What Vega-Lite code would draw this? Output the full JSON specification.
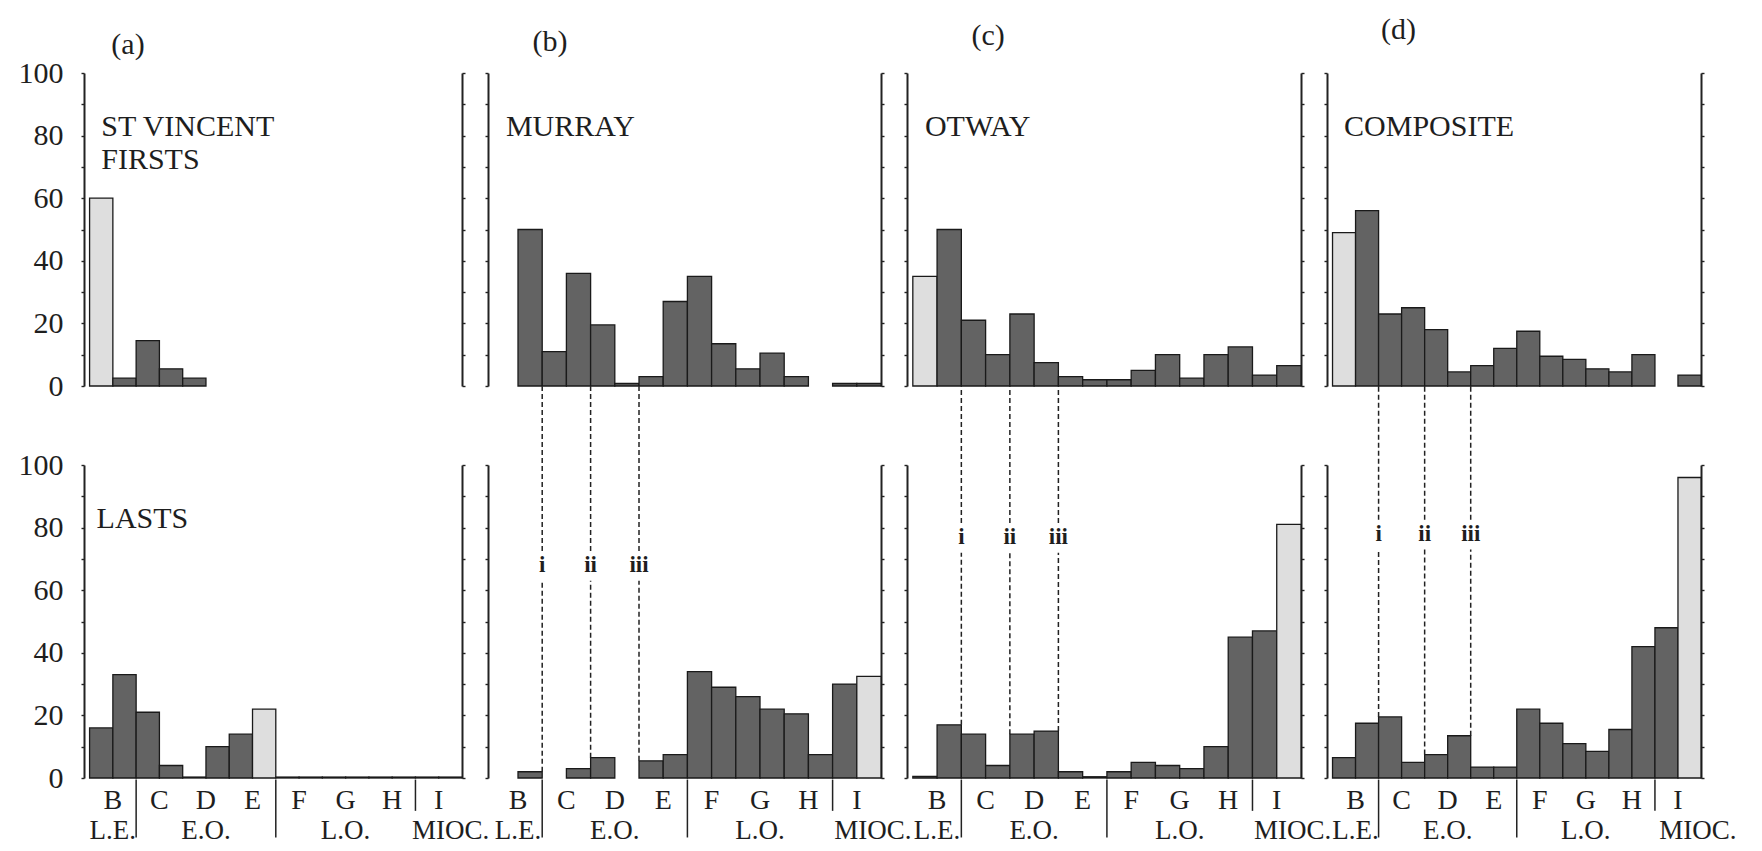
{
  "$schema": "https://vega.github.io/schema/vega-lite/v6.json",
  "background": "white",
  "padding": {"left": 18, "top": 14, "right": 5, "bottom": 5},
  "bounds": "flush",
  "columns": 4,
  "spacing": {"row": 79, "column": 26},
  "config": {
    "font": "Liberation Serif",
    "view": {"stroke": null},
    "text": {"font": "Liberation Serif", "color": "#1e1e1e"},
    "axis": {"grid": false, "domainColor": "#222", "domainWidth": 2, "tickColor": "#222", "tickWidth": 1.4, "tickSize": 3, "labelFont": "Liberation Serif", "labelFontSize": 30, "labelColor": "#1e1e1e", "labelPadding": 18}
  },
  "datasets": {
    "bars": [
      {"panel": "a", "row": "top", "slot": 1, "value": 60, "kind": "light"},
      {"panel": "a", "row": "top", "slot": 2, "value": 2.5, "kind": "dark"},
      {"panel": "a", "row": "top", "slot": 3, "value": 14.5, "kind": "dark"},
      {"panel": "a", "row": "top", "slot": 4, "value": 5.5, "kind": "dark"},
      {"panel": "a", "row": "top", "slot": 5, "value": 2.5, "kind": "dark"},
      {"panel": "a", "row": "bottom", "slot": 1, "value": 16, "kind": "dark"},
      {"panel": "a", "row": "bottom", "slot": 2, "value": 33, "kind": "dark"},
      {"panel": "a", "row": "bottom", "slot": 3, "value": 21, "kind": "dark"},
      {"panel": "a", "row": "bottom", "slot": 4, "value": 4, "kind": "dark"},
      {"panel": "a", "row": "bottom", "slot": 5, "value": 0.3, "kind": "dark"},
      {"panel": "a", "row": "bottom", "slot": 6, "value": 10, "kind": "dark"},
      {"panel": "a", "row": "bottom", "slot": 7, "value": 14, "kind": "dark"},
      {"panel": "a", "row": "bottom", "slot": 8, "value": 22, "kind": "light"},
      {"panel": "a", "row": "bottom", "slot": 9, "value": 0.3, "kind": "dark"},
      {"panel": "a", "row": "bottom", "slot": 10, "value": 0.3, "kind": "dark"},
      {"panel": "a", "row": "bottom", "slot": 11, "value": 0.3, "kind": "dark"},
      {"panel": "a", "row": "bottom", "slot": 12, "value": 0.3, "kind": "dark"},
      {"panel": "a", "row": "bottom", "slot": 13, "value": 0.3, "kind": "dark"},
      {"panel": "a", "row": "bottom", "slot": 14, "value": 0.3, "kind": "dark"},
      {"panel": "a", "row": "bottom", "slot": 15, "value": 0.3, "kind": "dark"},
      {"panel": "a", "row": "bottom", "slot": 16, "value": 0.3, "kind": "dark"},
      {"panel": "b", "row": "top", "slot": 2, "value": 50, "kind": "dark"},
      {"panel": "b", "row": "top", "slot": 3, "value": 11, "kind": "dark"},
      {"panel": "b", "row": "top", "slot": 4, "value": 36, "kind": "dark"},
      {"panel": "b", "row": "top", "slot": 5, "value": 19.5, "kind": "dark"},
      {"panel": "b", "row": "top", "slot": 6, "value": 0.8, "kind": "dark"},
      {"panel": "b", "row": "top", "slot": 7, "value": 3, "kind": "dark"},
      {"panel": "b", "row": "top", "slot": 8, "value": 27, "kind": "dark"},
      {"panel": "b", "row": "top", "slot": 9, "value": 35, "kind": "dark"},
      {"panel": "b", "row": "top", "slot": 10, "value": 13.5, "kind": "dark"},
      {"panel": "b", "row": "top", "slot": 11, "value": 5.5, "kind": "dark"},
      {"panel": "b", "row": "top", "slot": 12, "value": 10.5, "kind": "dark"},
      {"panel": "b", "row": "top", "slot": 13, "value": 3, "kind": "dark"},
      {"panel": "b", "row": "top", "slot": 15, "value": 0.8, "kind": "dark"},
      {"panel": "b", "row": "top", "slot": 16, "value": 0.8, "kind": "dark"},
      {"panel": "b", "row": "bottom", "slot": 2, "value": 2, "kind": "dark"},
      {"panel": "b", "row": "bottom", "slot": 4, "value": 3, "kind": "dark"},
      {"panel": "b", "row": "bottom", "slot": 5, "value": 6.5, "kind": "dark"},
      {"panel": "b", "row": "bottom", "slot": 7, "value": 5.5, "kind": "dark"},
      {"panel": "b", "row": "bottom", "slot": 8, "value": 7.5, "kind": "dark"},
      {"panel": "b", "row": "bottom", "slot": 9, "value": 34, "kind": "dark"},
      {"panel": "b", "row": "bottom", "slot": 10, "value": 29, "kind": "dark"},
      {"panel": "b", "row": "bottom", "slot": 11, "value": 26, "kind": "dark"},
      {"panel": "b", "row": "bottom", "slot": 12, "value": 22, "kind": "dark"},
      {"panel": "b", "row": "bottom", "slot": 13, "value": 20.5, "kind": "dark"},
      {"panel": "b", "row": "bottom", "slot": 14, "value": 7.5, "kind": "dark"},
      {"panel": "b", "row": "bottom", "slot": 15, "value": 30, "kind": "dark"},
      {"panel": "b", "row": "bottom", "slot": 16, "value": 32.5, "kind": "light"},
      {"panel": "c", "row": "top", "slot": 1, "value": 35, "kind": "light"},
      {"panel": "c", "row": "top", "slot": 2, "value": 50, "kind": "dark"},
      {"panel": "c", "row": "top", "slot": 3, "value": 21, "kind": "dark"},
      {"panel": "c", "row": "top", "slot": 4, "value": 10, "kind": "dark"},
      {"panel": "c", "row": "top", "slot": 5, "value": 23, "kind": "dark"},
      {"panel": "c", "row": "top", "slot": 6, "value": 7.5, "kind": "dark"},
      {"panel": "c", "row": "top", "slot": 7, "value": 3, "kind": "dark"},
      {"panel": "c", "row": "top", "slot": 8, "value": 2, "kind": "dark"},
      {"panel": "c", "row": "top", "slot": 9, "value": 2, "kind": "dark"},
      {"panel": "c", "row": "top", "slot": 10, "value": 5, "kind": "dark"},
      {"panel": "c", "row": "top", "slot": 11, "value": 10, "kind": "dark"},
      {"panel": "c", "row": "top", "slot": 12, "value": 2.5, "kind": "dark"},
      {"panel": "c", "row": "top", "slot": 13, "value": 10, "kind": "dark"},
      {"panel": "c", "row": "top", "slot": 14, "value": 12.5, "kind": "dark"},
      {"panel": "c", "row": "top", "slot": 15, "value": 3.5, "kind": "dark"},
      {"panel": "c", "row": "top", "slot": 16, "value": 6.5, "kind": "dark"},
      {"panel": "c", "row": "bottom", "slot": 1, "value": 0.5, "kind": "dark"},
      {"panel": "c", "row": "bottom", "slot": 2, "value": 17, "kind": "dark"},
      {"panel": "c", "row": "bottom", "slot": 3, "value": 14, "kind": "dark"},
      {"panel": "c", "row": "bottom", "slot": 4, "value": 4, "kind": "dark"},
      {"panel": "c", "row": "bottom", "slot": 5, "value": 14, "kind": "dark"},
      {"panel": "c", "row": "bottom", "slot": 6, "value": 15, "kind": "dark"},
      {"panel": "c", "row": "bottom", "slot": 7, "value": 2, "kind": "dark"},
      {"panel": "c", "row": "bottom", "slot": 8, "value": 0.4, "kind": "dark"},
      {"panel": "c", "row": "bottom", "slot": 9, "value": 2, "kind": "dark"},
      {"panel": "c", "row": "bottom", "slot": 10, "value": 5, "kind": "dark"},
      {"panel": "c", "row": "bottom", "slot": 11, "value": 4, "kind": "dark"},
      {"panel": "c", "row": "bottom", "slot": 12, "value": 3, "kind": "dark"},
      {"panel": "c", "row": "bottom", "slot": 13, "value": 10, "kind": "dark"},
      {"panel": "c", "row": "bottom", "slot": 14, "value": 45, "kind": "dark"},
      {"panel": "c", "row": "bottom", "slot": 15, "value": 47, "kind": "dark"},
      {"panel": "c", "row": "bottom", "slot": 16, "value": 81, "kind": "light"},
      {"panel": "d", "row": "top", "slot": 1, "value": 49, "kind": "light"},
      {"panel": "d", "row": "top", "slot": 2, "value": 56, "kind": "dark"},
      {"panel": "d", "row": "top", "slot": 3, "value": 23, "kind": "dark"},
      {"panel": "d", "row": "top", "slot": 4, "value": 25, "kind": "dark"},
      {"panel": "d", "row": "top", "slot": 5, "value": 18, "kind": "dark"},
      {"panel": "d", "row": "top", "slot": 6, "value": 4.5, "kind": "dark"},
      {"panel": "d", "row": "top", "slot": 7, "value": 6.5, "kind": "dark"},
      {"panel": "d", "row": "top", "slot": 8, "value": 12, "kind": "dark"},
      {"panel": "d", "row": "top", "slot": 9, "value": 17.5, "kind": "dark"},
      {"panel": "d", "row": "top", "slot": 10, "value": 9.5, "kind": "dark"},
      {"panel": "d", "row": "top", "slot": 11, "value": 8.5, "kind": "dark"},
      {"panel": "d", "row": "top", "slot": 12, "value": 5.5, "kind": "dark"},
      {"panel": "d", "row": "top", "slot": 13, "value": 4.5, "kind": "dark"},
      {"panel": "d", "row": "top", "slot": 14, "value": 10, "kind": "dark"},
      {"panel": "d", "row": "top", "slot": 16, "value": 3.5, "kind": "dark"},
      {"panel": "d", "row": "bottom", "slot": 1, "value": 6.5, "kind": "dark"},
      {"panel": "d", "row": "bottom", "slot": 2, "value": 17.5, "kind": "dark"},
      {"panel": "d", "row": "bottom", "slot": 3, "value": 19.5, "kind": "dark"},
      {"panel": "d", "row": "bottom", "slot": 4, "value": 5, "kind": "dark"},
      {"panel": "d", "row": "bottom", "slot": 5, "value": 7.5, "kind": "dark"},
      {"panel": "d", "row": "bottom", "slot": 6, "value": 13.5, "kind": "dark"},
      {"panel": "d", "row": "bottom", "slot": 7, "value": 3.5, "kind": "dark"},
      {"panel": "d", "row": "bottom", "slot": 8, "value": 3.5, "kind": "dark"},
      {"panel": "d", "row": "bottom", "slot": 9, "value": 22, "kind": "dark"},
      {"panel": "d", "row": "bottom", "slot": 10, "value": 17.5, "kind": "dark"},
      {"panel": "d", "row": "bottom", "slot": 11, "value": 11, "kind": "dark"},
      {"panel": "d", "row": "bottom", "slot": 12, "value": 8.5, "kind": "dark"},
      {"panel": "d", "row": "bottom", "slot": 13, "value": 15.5, "kind": "dark"},
      {"panel": "d", "row": "bottom", "slot": 14, "value": 42, "kind": "dark"},
      {"panel": "d", "row": "bottom", "slot": 15, "value": 48, "kind": "dark"},
      {"panel": "d", "row": "bottom", "slot": 16, "value": 96, "kind": "light"}
    ],
    "markers": [
      {"panel": "b", "label": "i", "slot": 2, "top": 2},
      {"panel": "b", "label": "ii", "slot": 4, "top": 6.5},
      {"panel": "b", "label": "iii", "slot": 6, "top": 5.5},
      {"panel": "c", "label": "i", "slot": 2, "top": 17},
      {"panel": "c", "label": "ii", "slot": 4, "top": 14},
      {"panel": "c", "label": "iii", "slot": 6, "top": 15},
      {"panel": "d", "label": "i", "slot": 2, "top": 19.5},
      {"panel": "d", "label": "ii", "slot": 4, "top": 7.5},
      {"panel": "d", "label": "iii", "slot": 6, "top": 13.5}
    ],
    "titles": [
      {"panel": "a", "row": "top", "text": "ST VINCENT\nFIRSTS"},
      {"panel": "a", "row": "bottom", "text": "LASTS"},
      {"panel": "b", "row": "top", "text": "MURRAY"},
      {"panel": "c", "row": "top", "text": "OTWAY"},
      {"panel": "d", "row": "top", "text": "COMPOSITE"}
    ],
    "letters": [
      {"panel": "a", "text": "(a)"},
      {"panel": "b", "text": "(b)"},
      {"panel": "c", "text": "(c)"},
      {"panel": "d", "text": "(d)"}
    ],
    "xletters": [
      {"label": "B", "slot": 1}, {"label": "C", "slot": 3}, {"label": "D", "slot": 5}, {"label": "E", "slot": 7},
      {"label": "F", "slot": 9}, {"label": "G", "slot": 11}, {"label": "H", "slot": 13}, {"label": "I", "slot": 15}
    ],
    "xgroups": [
      {"label": "L.E.", "slot": 1}, {"label": "E.O.", "slot": 5}, {"label": "L.O.", "slot": 11}, {"label": "MIOC.", "slot": 15}
    ],
    "xdividers": [
      {"slot": 2, "kind": "long"}, {"slot": 8, "kind": "long"}, {"slot": 14, "kind": "short"}
    ]
  },
  "concat": [
    {
      "width": 378, "height": 313,
      "layer": [
        {"data": {"name": "bars"}, "transform": [{"filter": "datum.panel === 'a' && datum.row === 'top'"}],
         "mark": {"type": "bar", "stroke": "#1a1a1a", "strokeWidth": 1.3},
         "encoding": {
           "x": {"field": "slot", "type": "ordinal", "scale": {"type": "band", "domain": [1,2,3,4,5,6,7,8,9,10,11,12,13,14,15,16], "paddingInner": 0, "paddingOuter": 0.12, "align": 1}, "axis": null},
           "y": {"field": "value", "type": "quantitative", "scale": {"domain": [0, 100], "nice": false}, "axis": {"orient": "left", "values": [0,10,20,30,40,50,60,70,80,90,100], "labelExpr": "datum.value % 20 === 0 ? datum.label : ''", "title": null}},
           "fill": {"field": "kind", "type": "nominal", "scale": {"domain": ["dark", "light"], "range": ["#636363", "#dedede"]}, "legend": null}}},
        {"data": {"name": "bars"}, "transform": [{"filter": "datum.panel === 'a' && datum.row === 'top'"}],
         "mark": {"type": "tick", "opacity": 0},
         "encoding": {"y": {"field": "value", "type": "quantitative", "axis": {"orient": "right", "values": [0,10,20,30,40,50,60,70,80,90,100], "labels": false, "title": null}}}},
        {"data": {"name": "titles"}, "transform": [{"filter": "datum.panel === 'a' && datum.row === 'top'"}],
         "mark": {"type": "text", "align": "left", "baseline": "alphabetic", "fontSize": 30, "lineBreak": "\n", "lineHeight": 33},
         "encoding": {"x": {"datum": 1, "type": "ordinal", "bandPosition": 0.5, "axis": null}, "y": {"datum": 80, "type": "quantitative", "axis": null}, "text": {"field": "text"}}},
        {"data": {"name": "letters"}, "transform": [{"filter": "datum.panel === 'a'"}],
         "mark": {"type": "text", "align": "center", "baseline": "alphabetic", "fontSize": 30},
         "encoding": {"x": {"datum": 2, "type": "ordinal", "bandPosition": 0.65, "axis": null}, "y": {"datum": 106, "type": "quantitative", "axis": null}, "text": {"field": "text"}}}
      ],
      "resolve": {"axis": {"y": "independent"}}
    },
    {
      "width": 393, "height": 313,
      "layer": [
        {"data": {"name": "bars"}, "transform": [{"filter": "datum.panel === 'b' && datum.row === 'top'"}],
         "mark": {"type": "bar", "stroke": "#1a1a1a", "strokeWidth": 1.3},
         "encoding": {
           "x": {"field": "slot", "type": "ordinal", "scale": {"type": "band", "domain": [1,2,3,4,5,6,7,8,9,10,11,12,13,14,15,16], "paddingInner": 0, "paddingOuter": 0.12, "align": 1}, "axis": null},
           "y": {"field": "value", "type": "quantitative", "scale": {"domain": [0, 100], "nice": false}, "axis": {"orient": "left", "values": [0,10,20,30,40,50,60,70,80,90,100], "labels": false, "title": null}},
           "fill": {"field": "kind", "type": "nominal", "scale": {"domain": ["dark", "light"], "range": ["#636363", "#dedede"]}, "legend": null}}},
        {"data": {"name": "bars"}, "transform": [{"filter": "datum.panel === 'b' && datum.row === 'top'"}],
         "mark": {"type": "tick", "opacity": 0},
         "encoding": {"y": {"field": "value", "type": "quantitative", "axis": {"orient": "right", "values": [0,10,20,30,40,50,60,70,80,90,100], "labels": false, "title": null}}}},
        {"data": {"name": "titles"}, "transform": [{"filter": "datum.panel === 'b' && datum.row === 'top'"}],
         "mark": {"type": "text", "align": "left", "baseline": "alphabetic", "fontSize": 30, "lineBreak": "\n", "lineHeight": 33},
         "encoding": {"x": {"datum": 1, "type": "ordinal", "bandPosition": 0.5, "axis": null}, "y": {"datum": 80, "type": "quantitative", "axis": null}, "text": {"field": "text"}}},
        {"data": {"name": "letters"}, "transform": [{"filter": "datum.panel === 'b'"}],
         "mark": {"type": "text", "align": "center", "baseline": "alphabetic", "fontSize": 30},
         "encoding": {"x": {"datum": 3, "type": "ordinal", "bandPosition": 0.32, "axis": null}, "y": {"datum": 107, "type": "quantitative", "axis": null}, "text": {"field": "text"}}}
      ],
      "resolve": {"axis": {"y": "independent"}}
    },
    {
      "width": 394, "height": 313,
      "layer": [
        {"data": {"name": "bars"}, "transform": [{"filter": "datum.panel === 'c' && datum.row === 'top'"}],
         "mark": {"type": "bar", "stroke": "#1a1a1a", "strokeWidth": 1.3},
         "encoding": {
           "x": {"field": "slot", "type": "ordinal", "scale": {"type": "band", "domain": [1,2,3,4,5,6,7,8,9,10,11,12,13,14,15,16], "paddingInner": 0, "paddingOuter": 0.12, "align": 1}, "axis": null},
           "y": {"field": "value", "type": "quantitative", "scale": {"domain": [0, 100], "nice": false}, "axis": {"orient": "left", "values": [0,10,20,30,40,50,60,70,80,90,100], "labels": false, "title": null}},
           "fill": {"field": "kind", "type": "nominal", "scale": {"domain": ["dark", "light"], "range": ["#636363", "#dedede"]}, "legend": null}}},
        {"data": {"name": "bars"}, "transform": [{"filter": "datum.panel === 'c' && datum.row === 'top'"}],
         "mark": {"type": "tick", "opacity": 0},
         "encoding": {"y": {"field": "value", "type": "quantitative", "axis": {"orient": "right", "values": [0,10,20,30,40,50,60,70,80,90,100], "labels": false, "title": null}}}},
        {"data": {"name": "titles"}, "transform": [{"filter": "datum.panel === 'c' && datum.row === 'top'"}],
         "mark": {"type": "text", "align": "left", "baseline": "alphabetic", "fontSize": 30, "lineBreak": "\n", "lineHeight": 33},
         "encoding": {"x": {"datum": 1, "type": "ordinal", "bandPosition": 0.5, "axis": null}, "y": {"datum": 80, "type": "quantitative", "axis": null}, "text": {"field": "text"}}},
        {"data": {"name": "letters"}, "transform": [{"filter": "datum.panel === 'c'"}],
         "mark": {"type": "text", "align": "center", "baseline": "alphabetic", "fontSize": 30},
         "encoding": {"x": {"datum": 4, "type": "ordinal", "bandPosition": 0.1, "axis": null}, "y": {"datum": 109, "type": "quantitative", "axis": null}, "text": {"field": "text"}}}
      ],
      "resolve": {"axis": {"y": "independent"}}
    },
    {
      "width": 374, "height": 313,
      "layer": [
        {"data": {"name": "bars"}, "transform": [{"filter": "datum.panel === 'd' && datum.row === 'top'"}],
         "mark": {"type": "bar", "stroke": "#1a1a1a", "strokeWidth": 1.3},
         "encoding": {
           "x": {"field": "slot", "type": "ordinal", "scale": {"type": "band", "domain": [1,2,3,4,5,6,7,8,9,10,11,12,13,14,15,16], "paddingInner": 0, "paddingOuter": 0.12, "align": 1}, "axis": null},
           "y": {"field": "value", "type": "quantitative", "scale": {"domain": [0, 100], "nice": false}, "axis": {"orient": "left", "values": [0,10,20,30,40,50,60,70,80,90,100], "labels": false, "title": null}},
           "fill": {"field": "kind", "type": "nominal", "scale": {"domain": ["dark", "light"], "range": ["#636363", "#dedede"]}, "legend": null}}},
        {"data": {"name": "bars"}, "transform": [{"filter": "datum.panel === 'd' && datum.row === 'top'"}],
         "mark": {"type": "tick", "opacity": 0},
         "encoding": {"y": {"field": "value", "type": "quantitative", "axis": {"orient": "right", "values": [0,10,20,30,40,50,60,70,80,90,100], "labels": false, "title": null}}}},
        {"data": {"name": "titles"}, "transform": [{"filter": "datum.panel === 'd' && datum.row === 'top'"}],
         "mark": {"type": "text", "align": "left", "baseline": "alphabetic", "fontSize": 30, "lineBreak": "\n", "lineHeight": 33},
         "encoding": {"x": {"datum": 1, "type": "ordinal", "bandPosition": 0.5, "axis": null}, "y": {"datum": 80, "type": "quantitative", "axis": null}, "text": {"field": "text"}}},
        {"data": {"name": "letters"}, "transform": [{"filter": "datum.panel === 'd'"}],
         "mark": {"type": "text", "align": "center", "baseline": "alphabetic", "fontSize": 30},
         "encoding": {"x": {"datum": 3, "type": "ordinal", "bandPosition": 0.86, "axis": null}, "y": {"datum": 111, "type": "quantitative", "axis": null}, "text": {"field": "text"}}}
      ],
      "resolve": {"axis": {"y": "independent"}}
    },
    {
      "width": 378, "height": 313,
      "layer": [
        {"data": {"name": "bars"}, "transform": [{"filter": "datum.panel === 'a' && datum.row === 'bottom'"}],
         "mark": {"type": "bar", "stroke": "#1a1a1a", "strokeWidth": 1.3},
         "encoding": {
           "x": {"field": "slot", "type": "ordinal", "scale": {"type": "band", "domain": [1,2,3,4,5,6,7,8,9,10,11,12,13,14,15,16], "paddingInner": 0, "paddingOuter": 0.12, "align": 1}, "axis": null},
           "y": {"field": "value", "type": "quantitative", "scale": {"domain": [0, 100], "nice": false}, "axis": {"orient": "left", "values": [0,10,20,30,40,50,60,70,80,90,100], "labelExpr": "datum.value % 20 === 0 ? datum.label : ''", "title": null}},
           "fill": {"field": "kind", "type": "nominal", "scale": {"domain": ["dark", "light"], "range": ["#636363", "#dedede"]}, "legend": null}}},
        {"data": {"name": "bars"}, "transform": [{"filter": "datum.panel === 'a' && datum.row === 'bottom'"}],
         "mark": {"type": "tick", "opacity": 0},
         "encoding": {"y": {"field": "value", "type": "quantitative", "axis": {"orient": "right", "values": [0,10,20,30,40,50,60,70,80,90,100], "labels": false, "title": null}}}},
        {"data": {"name": "titles"}, "transform": [{"filter": "datum.panel === 'a' && datum.row === 'bottom'"}],
         "mark": {"type": "text", "align": "left", "baseline": "alphabetic", "fontSize": 30},
         "encoding": {"x": {"datum": 1, "type": "ordinal", "bandPosition": 0.3, "axis": null}, "y": {"datum": 80, "type": "quantitative", "axis": null}, "text": {"field": "text"}}},
        {"data": {"name": "xletters"},
         "mark": {"type": "text", "align": "center", "baseline": "middle", "fontSize": 28},
         "encoding": {"x": {"field": "slot", "type": "ordinal", "bandPosition": 1, "axis": null}, "y": {"datum": -7.5, "type": "quantitative", "axis": null}, "text": {"field": "label"}}},
        {"data": {"name": "xgroups"}, "transform": [{"filter": "datum.label !== 'MIOC.'"}],
         "mark": {"type": "text", "align": "center", "baseline": "middle", "fontSize": 27},
         "encoding": {"x": {"field": "slot", "type": "ordinal", "bandPosition": 1, "axis": null}, "y": {"datum": -17, "type": "quantitative", "axis": null}, "text": {"field": "label"}}},
        {"data": {"name": "xgroups"}, "transform": [{"filter": "datum.label === 'MIOC.'"}],
         "mark": {"type": "text", "align": "center", "baseline": "middle", "fontSize": 27, "dx": 12},
         "encoding": {"x": {"field": "slot", "type": "ordinal", "bandPosition": 1, "axis": null}, "y": {"datum": -17, "type": "quantitative", "axis": null}, "text": {"field": "label"}}},
        {"data": {"name": "xdividers"}, "transform": [{"filter": "datum.kind === 'long'"}],
         "mark": {"type": "rule", "strokeWidth": 1.5, "color": "#222"},
         "encoding": {"x": {"field": "slot", "type": "ordinal", "bandPosition": 1, "axis": null}, "y": {"datum": -0.5, "type": "quantitative", "axis": null}, "y2": {"datum": -19}}},
        {"data": {"name": "xdividers"}, "transform": [{"filter": "datum.kind === 'short'"}],
         "mark": {"type": "rule", "strokeWidth": 1.5, "color": "#222"},
         "encoding": {"x": {"field": "slot", "type": "ordinal", "bandPosition": 1, "axis": null}, "y": {"datum": -0.5, "type": "quantitative", "axis": null}, "y2": {"datum": -10.5}}}
      ],
      "resolve": {"axis": {"y": "independent"}}
    },
    {
      "width": 393, "height": 313,
      "layer": [
        {"data": {"name": "bars"}, "transform": [{"filter": "datum.panel === 'b' && datum.row === 'bottom'"}],
         "mark": {"type": "bar", "stroke": "#1a1a1a", "strokeWidth": 1.3},
         "encoding": {
           "x": {"field": "slot", "type": "ordinal", "scale": {"type": "band", "domain": [1,2,3,4,5,6,7,8,9,10,11,12,13,14,15,16], "paddingInner": 0, "paddingOuter": 0.12, "align": 1}, "axis": null},
           "y": {"field": "value", "type": "quantitative", "scale": {"domain": [0, 100], "nice": false}, "axis": {"orient": "left", "values": [0,10,20,30,40,50,60,70,80,90,100], "labels": false, "title": null}},
           "fill": {"field": "kind", "type": "nominal", "scale": {"domain": ["dark", "light"], "range": ["#636363", "#dedede"]}, "legend": null}}},
        {"data": {"name": "bars"}, "transform": [{"filter": "datum.panel === 'b' && datum.row === 'bottom'"}],
         "mark": {"type": "tick", "opacity": 0},
         "encoding": {"y": {"field": "value", "type": "quantitative", "axis": {"orient": "right", "values": [0,10,20,30,40,50,60,70,80,90,100], "labels": false, "title": null}}}},
        {"data": {"name": "xletters"},
         "mark": {"type": "text", "align": "center", "baseline": "middle", "fontSize": 28},
         "encoding": {"x": {"field": "slot", "type": "ordinal", "bandPosition": 1, "axis": null}, "y": {"datum": -7.5, "type": "quantitative", "axis": null}, "text": {"field": "label"}}},
        {"data": {"name": "xgroups"}, "transform": [{"filter": "datum.label !== 'MIOC.'"}],
         "mark": {"type": "text", "align": "center", "baseline": "middle", "fontSize": 27},
         "encoding": {"x": {"field": "slot", "type": "ordinal", "bandPosition": 1, "axis": null}, "y": {"datum": -17, "type": "quantitative", "axis": null}, "text": {"field": "label"}}},
        {"data": {"name": "xgroups"}, "transform": [{"filter": "datum.label === 'MIOC.'"}],
         "mark": {"type": "text", "align": "center", "baseline": "middle", "fontSize": 27, "dx": 16},
         "encoding": {"x": {"field": "slot", "type": "ordinal", "bandPosition": 1, "axis": null}, "y": {"datum": -17, "type": "quantitative", "axis": null}, "text": {"field": "label"}}},
        {"data": {"name": "xdividers"}, "transform": [{"filter": "datum.kind === 'long'"}],
         "mark": {"type": "rule", "strokeWidth": 1.5, "color": "#222"},
         "encoding": {"x": {"field": "slot", "type": "ordinal", "bandPosition": 1, "axis": null}, "y": {"datum": -0.5, "type": "quantitative", "axis": null}, "y2": {"datum": -19}}},
        {"data": {"name": "xdividers"}, "transform": [{"filter": "datum.kind === 'short'"}],
         "mark": {"type": "rule", "strokeWidth": 1.5, "color": "#222"},
         "encoding": {"x": {"field": "slot", "type": "ordinal", "bandPosition": 1, "axis": null}, "y": {"datum": -0.5, "type": "quantitative", "axis": null}, "y2": {"datum": -10.5}}},
        {"data": {"name": "markers"}, "transform": [{"filter": "datum.panel === 'b'"}],
         "mark": {"type": "rule", "strokeDash": [5, 3], "strokeWidth": 1.5, "color": "#222"},
         "encoding": {"x": {"field": "slot", "type": "ordinal", "bandPosition": 1, "axis": null}, "y": {"field": "top", "type": "quantitative", "axis": null}, "y2": {"datum": 63}}},
        {"data": {"name": "markers"}, "transform": [{"filter": "datum.panel === 'b'"}],
         "mark": {"type": "rule", "strokeDash": [5, 3], "strokeWidth": 1.5, "color": "#222"},
         "encoding": {"x": {"field": "slot", "type": "ordinal", "bandPosition": 1, "axis": null}, "y": {"datum": 72.5, "type": "quantitative", "axis": null}, "y2": {"datum": 125}}},
        {"data": {"name": "markers"}, "transform": [{"filter": "datum.panel === 'b'"}],
         "mark": {"type": "text", "align": "center", "baseline": "middle", "fontSize": 23, "fontWeight": "bold"},
         "encoding": {"x": {"field": "slot", "type": "ordinal", "bandPosition": 1, "axis": null}, "y": {"datum": 68, "type": "quantitative", "axis": null}, "text": {"field": "label"}}}
      ],
      "resolve": {"axis": {"y": "independent"}}
    },
    {
      "width": 394, "height": 313,
      "layer": [
        {"data": {"name": "bars"}, "transform": [{"filter": "datum.panel === 'c' && datum.row === 'bottom'"}],
         "mark": {"type": "bar", "stroke": "#1a1a1a", "strokeWidth": 1.3},
         "encoding": {
           "x": {"field": "slot", "type": "ordinal", "scale": {"type": "band", "domain": [1,2,3,4,5,6,7,8,9,10,11,12,13,14,15,16], "paddingInner": 0, "paddingOuter": 0.12, "align": 1}, "axis": null},
           "y": {"field": "value", "type": "quantitative", "scale": {"domain": [0, 100], "nice": false}, "axis": {"orient": "left", "values": [0,10,20,30,40,50,60,70,80,90,100], "labels": false, "title": null}},
           "fill": {"field": "kind", "type": "nominal", "scale": {"domain": ["dark", "light"], "range": ["#636363", "#dedede"]}, "legend": null}}},
        {"data": {"name": "bars"}, "transform": [{"filter": "datum.panel === 'c' && datum.row === 'bottom'"}],
         "mark": {"type": "tick", "opacity": 0},
         "encoding": {"y": {"field": "value", "type": "quantitative", "axis": {"orient": "right", "values": [0,10,20,30,40,50,60,70,80,90,100], "labels": false, "title": null}}}},
        {"data": {"name": "xletters"},
         "mark": {"type": "text", "align": "center", "baseline": "middle", "fontSize": 28},
         "encoding": {"x": {"field": "slot", "type": "ordinal", "bandPosition": 1, "axis": null}, "y": {"datum": -7.5, "type": "quantitative", "axis": null}, "text": {"field": "label"}}},
        {"data": {"name": "xgroups"}, "transform": [{"filter": "datum.label !== 'MIOC.'"}],
         "mark": {"type": "text", "align": "center", "baseline": "middle", "fontSize": 27},
         "encoding": {"x": {"field": "slot", "type": "ordinal", "bandPosition": 1, "axis": null}, "y": {"datum": -17, "type": "quantitative", "axis": null}, "text": {"field": "label"}}},
        {"data": {"name": "xgroups"}, "transform": [{"filter": "datum.label === 'MIOC.'"}],
         "mark": {"type": "text", "align": "center", "baseline": "middle", "fontSize": 27, "dx": 16},
         "encoding": {"x": {"field": "slot", "type": "ordinal", "bandPosition": 1, "axis": null}, "y": {"datum": -17, "type": "quantitative", "axis": null}, "text": {"field": "label"}}},
        {"data": {"name": "xdividers"}, "transform": [{"filter": "datum.kind === 'long'"}],
         "mark": {"type": "rule", "strokeWidth": 1.5, "color": "#222"},
         "encoding": {"x": {"field": "slot", "type": "ordinal", "bandPosition": 1, "axis": null}, "y": {"datum": -0.5, "type": "quantitative", "axis": null}, "y2": {"datum": -19}}},
        {"data": {"name": "xdividers"}, "transform": [{"filter": "datum.kind === 'short'"}],
         "mark": {"type": "rule", "strokeWidth": 1.5, "color": "#222"},
         "encoding": {"x": {"field": "slot", "type": "ordinal", "bandPosition": 1, "axis": null}, "y": {"datum": -0.5, "type": "quantitative", "axis": null}, "y2": {"datum": -10.5}}},
        {"data": {"name": "markers"}, "transform": [{"filter": "datum.panel === 'c'"}],
         "mark": {"type": "rule", "strokeDash": [5, 3], "strokeWidth": 1.5, "color": "#222"},
         "encoding": {"x": {"field": "slot", "type": "ordinal", "bandPosition": 1, "axis": null}, "y": {"field": "top", "type": "quantitative", "axis": null}, "y2": {"datum": 72}}},
        {"data": {"name": "markers"}, "transform": [{"filter": "datum.panel === 'c'"}],
         "mark": {"type": "rule", "strokeDash": [5, 3], "strokeWidth": 1.5, "color": "#222"},
         "encoding": {"x": {"field": "slot", "type": "ordinal", "bandPosition": 1, "axis": null}, "y": {"datum": 81.5, "type": "quantitative", "axis": null}, "y2": {"datum": 125}}},
        {"data": {"name": "markers"}, "transform": [{"filter": "datum.panel === 'c'"}],
         "mark": {"type": "text", "align": "center", "baseline": "middle", "fontSize": 23, "fontWeight": "bold"},
         "encoding": {"x": {"field": "slot", "type": "ordinal", "bandPosition": 1, "axis": null}, "y": {"datum": 77, "type": "quantitative", "axis": null}, "text": {"field": "label"}}}
      ],
      "resolve": {"axis": {"y": "independent"}}
    },
    {
      "width": 374, "height": 313,
      "layer": [
        {"data": {"name": "bars"}, "transform": [{"filter": "datum.panel === 'd' && datum.row === 'bottom'"}],
         "mark": {"type": "bar", "stroke": "#1a1a1a", "strokeWidth": 1.3},
         "encoding": {
           "x": {"field": "slot", "type": "ordinal", "scale": {"type": "band", "domain": [1,2,3,4,5,6,7,8,9,10,11,12,13,14,15,16], "paddingInner": 0, "paddingOuter": 0.12, "align": 1}, "axis": null},
           "y": {"field": "value", "type": "quantitative", "scale": {"domain": [0, 100], "nice": false}, "axis": {"orient": "left", "values": [0,10,20,30,40,50,60,70,80,90,100], "labels": false, "title": null}},
           "fill": {"field": "kind", "type": "nominal", "scale": {"domain": ["dark", "light"], "range": ["#636363", "#dedede"]}, "legend": null}}},
        {"data": {"name": "bars"}, "transform": [{"filter": "datum.panel === 'd' && datum.row === 'bottom'"}],
         "mark": {"type": "tick", "opacity": 0},
         "encoding": {"y": {"field": "value", "type": "quantitative", "axis": {"orient": "right", "values": [0,10,20,30,40,50,60,70,80,90,100], "labels": false, "title": null}}}},
        {"data": {"name": "xletters"},
         "mark": {"type": "text", "align": "center", "baseline": "middle", "fontSize": 28},
         "encoding": {"x": {"field": "slot", "type": "ordinal", "bandPosition": 1, "axis": null}, "y": {"datum": -7.5, "type": "quantitative", "axis": null}, "text": {"field": "label"}}},
        {"data": {"name": "xgroups"}, "transform": [{"filter": "datum.label !== 'MIOC.'"}],
         "mark": {"type": "text", "align": "center", "baseline": "middle", "fontSize": 27},
         "encoding": {"x": {"field": "slot", "type": "ordinal", "bandPosition": 1, "axis": null}, "y": {"datum": -17, "type": "quantitative", "axis": null}, "text": {"field": "label"}}},
        {"data": {"name": "xgroups"}, "transform": [{"filter": "datum.label === 'MIOC.'"}],
         "mark": {"type": "text", "align": "center", "baseline": "middle", "fontSize": 27, "dx": 20},
         "encoding": {"x": {"field": "slot", "type": "ordinal", "bandPosition": 1, "axis": null}, "y": {"datum": -17, "type": "quantitative", "axis": null}, "text": {"field": "label"}}},
        {"data": {"name": "xdividers"}, "transform": [{"filter": "datum.kind === 'long'"}],
         "mark": {"type": "rule", "strokeWidth": 1.5, "color": "#222"},
         "encoding": {"x": {"field": "slot", "type": "ordinal", "bandPosition": 1, "axis": null}, "y": {"datum": -0.5, "type": "quantitative", "axis": null}, "y2": {"datum": -19}}},
        {"data": {"name": "xdividers"}, "transform": [{"filter": "datum.kind === 'short'"}],
         "mark": {"type": "rule", "strokeWidth": 1.5, "color": "#222"},
         "encoding": {"x": {"field": "slot", "type": "ordinal", "bandPosition": 1, "axis": null}, "y": {"datum": -0.5, "type": "quantitative", "axis": null}, "y2": {"datum": -10.5}}},
        {"data": {"name": "markers"}, "transform": [{"filter": "datum.panel === 'd'"}],
         "mark": {"type": "rule", "strokeDash": [5, 3], "strokeWidth": 1.5, "color": "#222"},
         "encoding": {"x": {"field": "slot", "type": "ordinal", "bandPosition": 1, "axis": null}, "y": {"field": "top", "type": "quantitative", "axis": null}, "y2": {"datum": 73}}},
        {"data": {"name": "markers"}, "transform": [{"filter": "datum.panel === 'd'"}],
         "mark": {"type": "rule", "strokeDash": [5, 3], "strokeWidth": 1.5, "color": "#222"},
         "encoding": {"x": {"field": "slot", "type": "ordinal", "bandPosition": 1, "axis": null}, "y": {"datum": 82.5, "type": "quantitative", "axis": null}, "y2": {"datum": 125}}},
        {"data": {"name": "markers"}, "transform": [{"filter": "datum.panel === 'd'"}],
         "mark": {"type": "text", "align": "center", "baseline": "middle", "fontSize": 23, "fontWeight": "bold"},
         "encoding": {"x": {"field": "slot", "type": "ordinal", "bandPosition": 1, "axis": null}, "y": {"datum": 78, "type": "quantitative", "axis": null}, "text": {"field": "label"}}}
      ],
      "resolve": {"axis": {"y": "independent"}}
    }
  ]
}
